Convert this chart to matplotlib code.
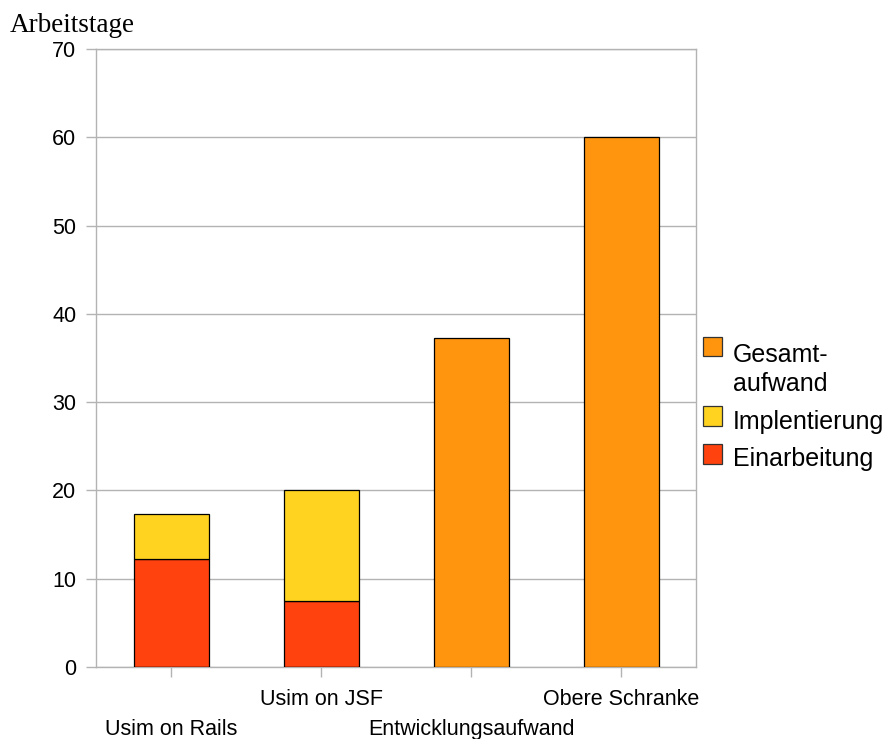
import matplotlib
matplotlib.use("Agg")
import matplotlib.pyplot as plt
import matplotlib.transforms as mtransforms
from matplotlib.patches import Rectangle
import numpy as np

categories = ["Usim on Rails", "Usim on JSF", "Entwicklungsaufwand", "Obere Schranke"]
einarbeitung = [12.2, 7.5, 0, 0]
implementierung = [5.1, 12.6, 0, 0]
gesamtaufwand = [0, 0, 37.3, 60.0]
y_ticks = [0, 10, 20, 30, 40, 50, 60, 70]
legend_labels = ["Gesamt-\naufwand", "Implentierung", "Einarbeitung"]

c_red = "#ff420e"
c_yellow = "#ffd320"
c_orange = "#ff950e"
grid_c = "#b3b3b3"
font = "Liberation Sans"

W, H = 889, 739
fig = plt.figure(figsize=(W / 100, H / 100), dpi=100)
ax = fig.add_axes([96 / W, 72 / H, 600 / W, 618 / H])

x = np.arange(len(categories))
bw = 0.5
ax.bar(x, einarbeitung, bw, color=c_red, edgecolor="black", linewidth=0.9, zorder=3)
ax.bar(x, implementierung, bw, bottom=einarbeitung, color=c_yellow, edgecolor="black",
       linewidth=0.9, zorder=3)
ax.bar(x, gesamtaufwand, bw, color=c_orange, edgecolor="black", linewidth=0.9, zorder=3)

ax.set_xlim(-0.5, len(categories) - 0.5)
ax.set_ylim(0, 70)
ax.set_yticks(y_ticks)
ax.yaxis.grid(True, color=grid_c, linewidth=1)
ax.set_axisbelow(True)
for s in ax.spines.values():
    s.set_color(grid_c)
    s.set_linewidth(1)

ax.tick_params(axis="y", length=7.2, width=1, color=grid_c, pad=7, labelsize=15.5)
ax.tick_params(axis="x", length=7.2, width=1, color=grid_c, pad=8.5, labelsize=15.5)
for lbl in ax.get_yticklabels():
    lbl.set_fontfamily(font)

ax.set_xticks(x)
ax.set_xticklabels(categories, fontfamily=font)
# stagger the category labels onto two rows
shift = mtransforms.ScaledTranslation(0, -0.30, fig.dpi_scale_trans)
for i, lbl in enumerate(ax.get_xticklabels()):
    if i % 2 == 0:
        lbl.set_transform(lbl.get_transform() + shift)

# legend drawn in figure pixel space
def fx(px):
    return px / W

def fy(py):
    return 1 - py / H

leg_colors = [c_orange, c_yellow, c_red]
box_tops = [337, 406, 444]
text_baselines = [362, 429, 466]
for col, top, base, lab in zip(leg_colors, box_tops, text_baselines, legend_labels):
    fig.add_artist(Rectangle((fx(703), fy(top + 19.5)), 19 / W, 19.5 / H,
                             transform=fig.transFigure, facecolor=col,
                             edgecolor="#333333", linewidth=0.9))
    fig.text(fx(733), fy(base), lab.split("\n")[0], fontfamily=font, fontsize=18,
             va="baseline", ha="left")
    if "\n" in lab:
        fig.text(fx(733), fy(base + 29), lab.split("\n")[1], fontfamily=font,
                 fontsize=18, va="baseline", ha="left")

fig.text(10 / W, 1 - 25 / H, "Arbeitstage", fontfamily="Liberation Serif",
         fontsize=19.5, va="center", ha="left")

fig.savefig("out.png", dpi=100)
